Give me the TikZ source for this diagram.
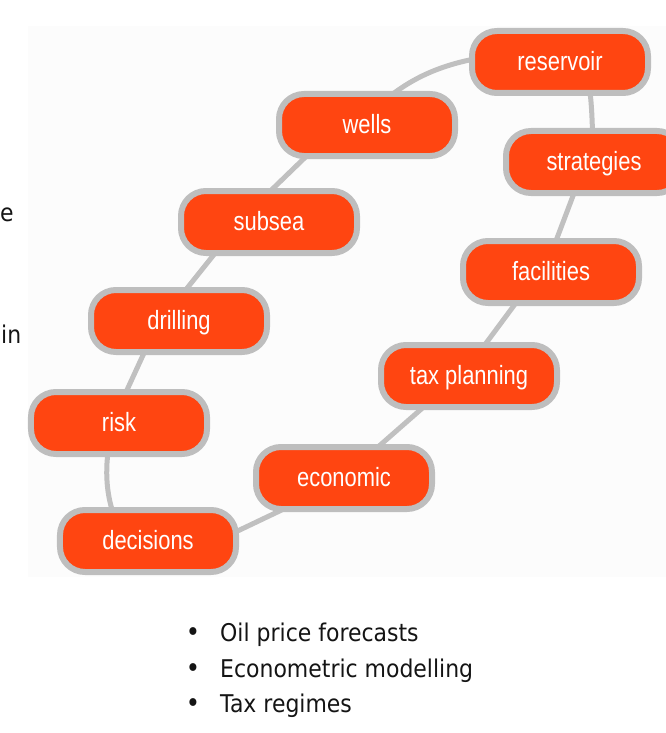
\documentclass[tikz,border=0pt]{standalone}
\usepackage{fontspec}
\setmainfont{Liberation Sans}
\newfontfamily\nodefont[FakeStretch=0.83]{Liberation Sans}
\newfontfamily\bulfont[FakeStretch=0.9]{DejaVu Sans}
\usetikzlibrary{backgrounds}
\definecolor{boxfill}{RGB}{255,69,17}
\definecolor{boxline}{RGB}{190,190,190}
\definecolor{panelbg}{RGB}{252,252,252}
\definecolor{linkgrey}{RGB}{192,192,192}
\definecolor{textdark}{RGB}{20,20,20}
\begin{document}
\begin{tikzpicture}[x=1bp,y=-1bp,
  topic/.style={draw=boxline, line width=6bp, fill=boxfill, rounded corners=25bp,
    minimum width=176bp, minimum height=62bp, inner sep=0pt, text=white,
    font=\nodefont\fontsize{26.5}{30}\selectfont, text height=19bp, text depth=2bp},
  link/.style={draw=linkgrey, line width=5bp},
  bullettext/.style={font=\bulfont\fontsize{24.5}{28}\selectfont, text=textdark,
    anchor=base west, inner sep=0pt},
  bulletmark/.style={font=\bulfont\fontsize{27}{28}\selectfont, text=textdark,
    anchor=base, inner sep=0pt}]
\clip (0,0) rectangle (666,733);

% topic nodes
\node[topic] (reservoir)   at (560,62)  {reservoir};
\node[topic] (wells)       at (367,125) {wells};
\node[topic] (strategies)  at (594,162) {strategies};
\node[topic] (subsea)      at (269,222) {subsea};
\node[topic] (facilities)  at (551,272) {facilities};
\node[topic] (drilling)    at (179,321) {drilling};
\node[topic] (taxplanning) at (469,376) {tax planning};
\node[topic] (risk)        at (119,423) {risk};
\node[topic] (economic)    at (344,478) {economic};
\node[topic] (decisions)   at (148,541) {decisions};

\begin{scope}[on background layer]
  \fill[panelbg] (28,26) rectangle (666,577);
  \draw[link] ([shift={(18,-25)}]wells.center) .. controls (410,80) and (440,62) .. ([shift={(-60,-7)}]reservoir.center);
  \draw[link] ([shift={(28,18)}]reservoir.center) .. controls (592,100) and (592,120) .. ([shift={(-1,-17)}]strategies.center);
  \draw[link] ([shift={(-47,18)}]wells.center) -- ([shift={(-11,-19)}]subsea.center);
  \draw[link] ([shift={(-45,20)}]subsea.center) -- ([shift={(-3,-19)}]drilling.center);
  \draw[link] ([shift={(-29,19)}]drilling.center) -- ([shift={(2,-20)}]risk.center);
  \draw[link] ([shift={(-9,17)}]risk.center) .. controls (104,470) and (106,500) .. ([shift={(-30,-16)}]decisions.center);
  \draw[link] ([shift={(77,-4)}]decisions.center) -- ([shift={(-54,28)}]economic.center);
  \draw[link] ([shift={(26,-24)}]economic.center) -- ([shift={(-34,21)}]taxplanning.center);
  \draw[link] ([shift={(9,-22)}]taxplanning.center) -- ([shift={(-27,20)}]facilities.center);
  \draw[link] ([shift={(0,-18)}]facilities.center) -- ([shift={(-15,18)}]strategies.center);
\end{scope}

% cropped slide text at the left edge
\node[bullettext] (frag1) at (0,221) {e};
\node[bullettext] (frag2) at (1,343) {in};

% bullet list
\node[bulletmark] (b1) at (193,641) {•};
\node[bulletmark] (b2) at (193,677) {•};
\node[bulletmark] (b3) at (193,712) {•};
\node[bullettext] (t1) at (220,641) {Oil price forecasts};
\node[bullettext] (t2) at (220,677) {Econometric modelling};
\node[bullettext] (t3) at (220,712) {Tax regimes};
\end{tikzpicture}
\end{document}
